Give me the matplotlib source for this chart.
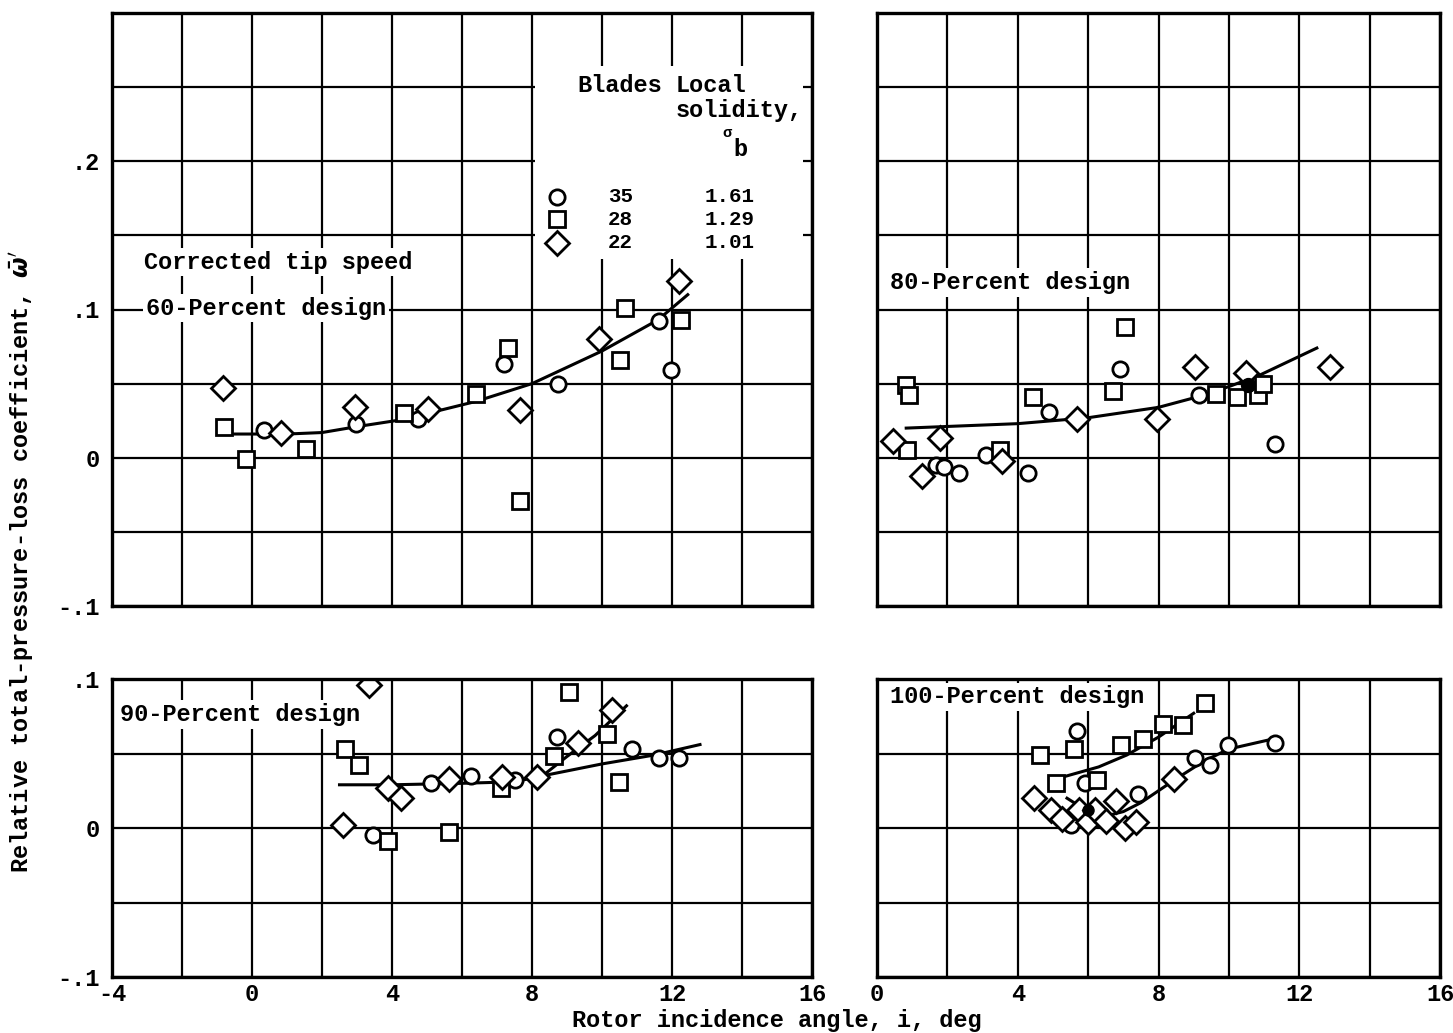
import numpy as np
import matplotlib.pyplot as plt
from matplotlib.patches import Rectangle

plt.rcParams['font.family'] = ['Liberation Mono', 'DejaVu Sans Mono']
plt.rcParams['font.size'] = 17
plt.rcParams['font.weight'] = 'bold'

# 60-percent design
c60_x = [0.33, 2.96, 4.74, 7.19, 8.74, 11.63, 11.98]
c60_y = [0.019, 0.023, 0.026, 0.063, 0.050, 0.092, 0.059]
s60_x = [-0.79, -0.17, 1.54, 4.33, 6.39, 7.30, 7.67, 10.52, 10.65, 12.25]
s60_y = [0.021, -0.001, 0.006, 0.030, 0.043, 0.074, -0.029, 0.066, 0.101, 0.093]
d60_x = [-0.83, 0.84, 2.94, 5.04, 7.65, 9.91, 12.2]
d60_y = [0.047, 0.017, 0.034, 0.033, 0.032, 0.080, 0.119]
f60_x = [-0.8, 0.0, 1.0, 2.0, 3.0, 4.1, 5.2, 6.4, 8.0, 10.0, 11.6, 12.45]
f60_y = [0.016, 0.016, 0.016, 0.017, 0.021, 0.025, 0.031, 0.038, 0.050, 0.072, 0.093, 0.110]

# 80-percent design
c80_x = [1.69, 1.90, 2.32, 3.11, 4.29, 4.90, 6.92, 9.14, 11.30]
c80_y = [-0.005, -0.006, -0.010, 0.002, -0.010, 0.031, 0.060, 0.042, 0.009]
s80_x = [0.83, 0.92, 0.86, 3.50, 4.42, 6.70, 7.05, 9.64, 10.23, 10.83, 10.97]
s80_y = [0.049, 0.042, 0.005, 0.005, 0.041, 0.045, 0.088, 0.043, 0.041, 0.042, 0.050]
d80_x = [0.45, 1.28, 1.78, 3.54, 5.69, 7.97, 9.04, 10.50, 12.86]
d80_y = [0.011, -0.012, 0.013, -0.002, 0.026, 0.026, 0.061, 0.057, 0.061]
solid80_x = [10.54]
solid80_y = [0.049]
f80_x = [0.83, 4.0, 6.0, 8.0, 9.1, 10.0, 10.9, 12.5]
f80_y = [0.020, 0.023, 0.027, 0.034, 0.041, 0.048, 0.056, 0.074]

# 90-percent design
c90_x = [3.45, 5.11, 6.26, 7.50, 8.70, 10.86, 11.64, 12.19]
c90_y = [-0.005, 0.030, 0.035, 0.032, 0.061, 0.053, 0.047, 0.047]
s90_x = [2.67, 3.05, 3.88, 5.62, 7.11, 8.64, 9.05, 10.13, 10.48]
s90_y = [0.053, 0.042, -0.009, -0.003, 0.027, 0.048, 0.091, 0.063, 0.031]
d90_x = [3.35, 2.61, 3.88, 4.26, 5.62, 7.14, 8.13, 9.30, 10.29]
d90_y = [0.096, 0.002, 0.027, 0.020, 0.033, 0.034, 0.034, 0.057, 0.079]
f90_x = [2.5, 4.0, 6.0, 7.5, 8.3]
f90_y = [0.029, 0.029, 0.030, 0.031, 0.035]
f90a_x = [8.3, 9.0, 9.8, 10.7]
f90a_y = [0.035, 0.048, 0.062, 0.082]
f90b_x = [8.3, 10.0, 11.5, 12.8]
f90b_y = [0.035, 0.043, 0.049, 0.056]

# 100-percent design
c100_x = [5.69, 5.90, 5.50, 7.41, 9.04, 9.45, 9.97, 11.3]
c100_y = [0.065, 0.030, 0.002, 0.023, 0.047, 0.042, 0.056, 0.057]
s100_x = [4.64, 5.61, 6.94, 7.55, 8.12, 8.69, 9.31, 5.09, 6.26]
s100_y = [0.049, 0.053, 0.056, 0.060, 0.070, 0.069, 0.084, 0.030, 0.032]
d100_x = [4.45, 4.95, 5.25, 5.75, 6.0, 6.2, 6.5, 6.8, 7.05, 7.35, 8.45]
d100_y = [0.020, 0.012, 0.006, 0.012, 0.004, 0.012, 0.005, 0.018, 0.000, 0.004, 0.033]
solid100_x = [6.0]
solid100_y = [0.012]
f100a_x = [5.1, 6.3, 7.1, 8.0, 9.0]
f100a_y = [0.033, 0.041, 0.049, 0.061, 0.077]
f100b_x = [5.4, 6.0, 6.5, 7.0, 7.5, 8.0, 8.5, 9.3, 10.0, 11.3]
f100b_y = [0.020, 0.011, 0.008, 0.011, 0.017, 0.025, 0.033, 0.045, 0.053, 0.060]

# legend table
legend_blades = ['35', '28', '22']
legend_solidity = ['1.61', '1.29', '1.01']

W, H = 1453, 1033
fig = plt.figure(figsize=(W / 100, H / 100), dpi=100)


def add_ax(l, r, t, b):
    return fig.add_axes([l / W, 1 - b / H, (r - l) / W, (b - t) / H])


ax60 = add_ax(112, 812, 13, 606)
ax80 = add_ax(877, 1440, 13, 606)
ax90 = add_ax(112, 812, 679, 977)
ax100 = add_ax(877, 1440, 679, 977)

lw = 1.6
mk = dict(ls='none', mfc='white', mec='black', mew=2.0, zorder=4)


def style(ax, xlim, ylim, yticks, ylabels, xlabels):
    ax.set_xlim(*xlim)
    ax.set_ylim(*ylim)
    ax.set_xticks(np.arange(xlim[0], xlim[1] + 0.1, 4))
    ax.set_xticks(np.arange(xlim[0], xlim[1] + 0.1, 2), minor=True)
    ax.set_yticks(yticks)
    ax.set_yticks(np.arange(ylim[0], ylim[1] + 0.001, 0.05), minor=True)
    if ylabels:
        ax.set_yticklabels(ylabels)
    else:
        ax.set_yticklabels([])
    if xlabels:
        ax.set_xticklabels([str(int(v)) for v in ax.get_xticks()])
    else:
        ax.set_xticklabels([])
    ax.grid(True, which='both', color='black', lw=lw)
    ax.set_axisbelow(True)
    ax.tick_params(which='both', length=0, labelsize=17)
    ax.tick_params(axis='x', pad=4)
    ax.tick_params(axis='y', pad=9)
    for sp in ax.spines.values():
        sp.set_linewidth(2.4)
        sp.set_zorder(5)


style(ax60, (-4, 16), (-0.1, 0.3), [-0.1, 0, 0.1, 0.2], ['-.1', '0', '.1', '.2'], False)
style(ax80, (0, 16), (-0.1, 0.3), [-0.1, 0, 0.1, 0.2], None, False)
style(ax90, (-4, 16), (-0.1, 0.1), [-0.1, 0, 0.1], ['-.1', '0', '.1'], True)
style(ax100, (0, 16), (-0.1, 0.1), [-0.1, 0, 0.1], None, True)


def draw(ax, cx, cy, sx, sy, dx, dy):
    ax.plot(cx, cy, marker='o', ms=11, **mk)
    ax.plot(sx, sy, marker='s', ms=12, **mk)
    ax.plot(dx, dy, marker='D', ms=12, **mk)


draw(ax60, c60_x, c60_y, s60_x, s60_y, d60_x, d60_y)
ax60.plot(f60_x, f60_y, color='black', lw=2.2, zorder=3)

draw(ax80, c80_x, c80_y, s80_x, s80_y, d80_x, d80_y)
ax80.plot(solid80_x, solid80_y, 'o', ms=10, color='black', zorder=5)
ax80.plot(f80_x, f80_y, color='black', lw=2.2, zorder=3)

draw(ax90, c90_x, c90_y, s90_x, s90_y, d90_x, d90_y)
for fx, fy in [(f90_x, f90_y), (f90a_x, f90a_y), (f90b_x, f90b_y)]:
    ax90.plot(fx, fy, color='black', lw=2.2, zorder=3)

draw(ax100, c100_x, c100_y, s100_x, s100_y, d100_x, d100_y)
ax100.plot(solid100_x, solid100_y, 'o', ms=8, color='black', zorder=5)
for fx, fy in [(f100a_x, f100a_y), (f100b_x, f100b_y)]:
    ax100.plot(fx, fy, color='black', lw=2.2, zorder=3)

# panel labels
box = dict(facecolor='white', edgecolor='none', pad=2)
ax60.text(-3.1, 0.132, 'Corrected tip speed', ha='left', va='center', bbox=box, zorder=3)
ax60.text(-3.03, 0.101, '60-Percent design', ha='left', va='center', bbox=box, zorder=3)
ax80.text(0.37, 0.118, '80-Percent design', ha='left', va='center', bbox=box, zorder=3)
ax90.text(-3.77, 0.076, '90-Percent design', ha='left', va='center', bbox=box, zorder=3)
ax100.text(0.37, 0.088, '100-Percent design', ha='left', va='center', bbox=box, zorder=3)

# legend block
ax60.add_patch(Rectangle((8.08, 0.134), 7.67, 0.130, facecolor='white',
                         edgecolor='none', zorder=2))
ax60.text(9.31, 0.251, 'Blades', ha='left', va='center', zorder=6)
ax60.text(12.11, 0.251, 'Local', ha='left', va='center', zorder=6)
ax60.text(12.11, 0.234, 'solidity,', ha='left', va='center', zorder=6)
ax60.text(13.45, 0.219, 'σ', ha='left', va='center', fontsize=11, zorder=6)
ax60.text(13.75, 0.208, 'b', ha='left', va='center', zorder=6)
leg_y = [0.176, 0.161, 0.145]
for m, ms, yy, nb, sol in zip(['o', 's', 'D'], [11, 12, 12], leg_y,
                              legend_blades, legend_solidity):
    ax60.plot([8.71], [yy], marker=m, ms=ms, **mk)
    ax60.text(10.17, yy, nb, ha='left', va='center', fontsize=15, zorder=6)
    ax60.text(12.94, yy, sol, ha='left', va='center', fontsize=15, zorder=6)

fig.text(22 / W, 1 - 562 / H, "Relative total-pressure-loss coefficient, $\\bar{\\omega}'$",
         rotation=90, ha='center', va='center', fontsize=17)
fig.text(777 / W, 1 - 1021 / H, 'Rotor incidence angle, i, deg',
         ha='center', va='center', fontsize=17)

fig.savefig('out.png', dpi=100, facecolor='white')
